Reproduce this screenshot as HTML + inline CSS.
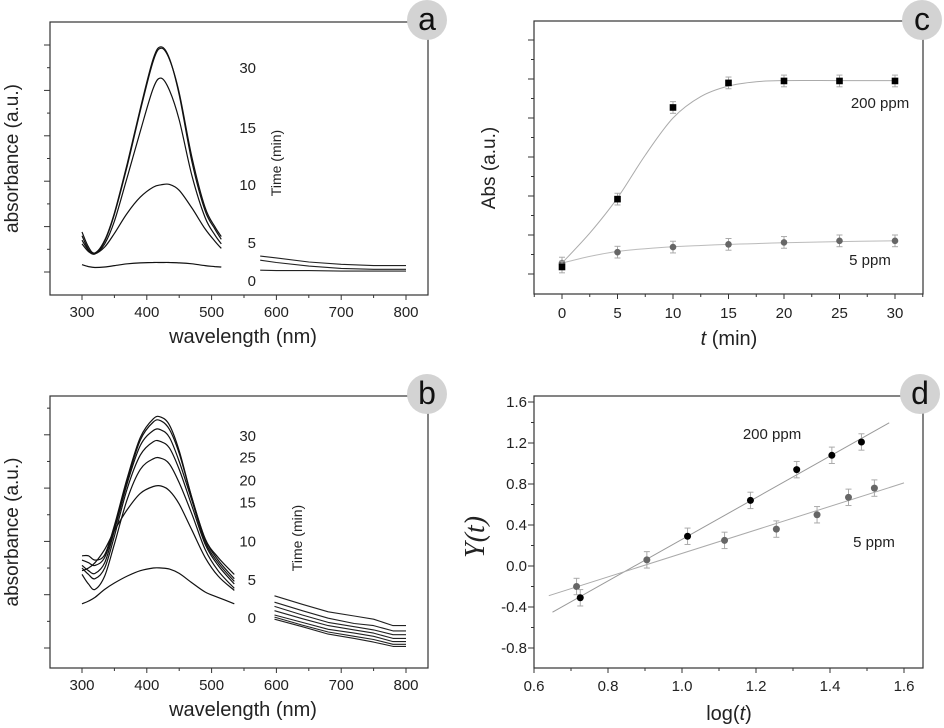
<!DOCTYPE html>
<html><head><meta charset="utf-8"><style>
html,body{margin:0;padding:0;background:#fff;}
svg{display:block;font-family:"Liberation Sans",sans-serif;}
</style></head><body>
<svg id="fig" width="944" height="728" viewBox="0 0 944 728"></svg>
<script>
// ---- Panel a data ----
const aWl = [300,310,320,335,350,370,390,410,422,435,450,470,490,505,515];
const aS30 = [0.88,0.55,0.42,0.7,1.3,2.4,3.6,4.7,4.96,4.7,3.9,2.4,1.35,0.95,0.72];
const aS20 = [0.80,0.50,0.40,0.68,1.27,2.35,3.55,4.65,4.93,4.68,3.95,2.5,1.42,1.0,0.78];
const aS15 = [0.70,0.48,0.40,0.62,1.12,2.1,3.1,4.05,4.27,4.0,3.35,2.1,1.2,0.82,0.62];
const aS10 = [0.62,0.45,0.40,0.55,0.85,1.3,1.65,1.87,1.92,1.93,1.8,1.4,0.95,0.68,0.52];
const aS0  = [0.16,0.12,0.10,0.11,0.14,0.18,0.2,0.21,0.21,0.21,0.2,0.18,0.14,0.12,0.11];
const aWlR = [575,600,650,700,750,800];
const aR1 = [0.35,0.31,0.22,0.17,0.14,0.14];
const aR2 = [0.26,0.21,0.13,0.08,0.06,0.06];
const aR3 = [0.04,0.03,0.03,0.02,0.02,0.02];
const aTimeLabels = ["30","15","10","5","0"];
const aTimeVals = [4.52,3.19,1.94,0.66,-0.18];
// ---- Panel b data ----
const bWl = [300,310,320,335,350,370,390,410,422,435,450,470,490,510,535];
const bS30 = [1.73,1.73,1.65,1.75,2.3,3.2,3.95,4.3,4.33,4.18,3.7,2.8,2.05,1.7,1.38];
const bS25 = [1.65,1.6,1.55,1.7,2.25,3.15,3.9,4.24,4.26,4.1,3.65,2.8,2.05,1.65,1.30];
const bS20 = [1.55,1.45,1.4,1.6,2.2,3.1,3.8,4.08,4.09,3.95,3.5,2.75,2.0,1.6,1.25];
const bS15 = [1.5,1.38,1.3,1.5,2.1,3.0,3.62,3.87,3.87,3.75,3.35,2.65,1.95,1.55,1.2];
const bS10 = [1.38,1.2,1.1,1.35,1.95,2.8,3.35,3.55,3.56,3.45,3.1,2.5,1.85,1.45,1.12];
const bS5  = [1.45,1.5,1.6,1.85,2.2,2.6,2.9,3.03,3.04,2.95,2.7,2.2,1.7,1.35,1.08];
const bS0  = [0.83,0.88,0.95,1.1,1.22,1.35,1.45,1.5,1.5,1.48,1.4,1.22,1.05,0.95,0.83];
const bWlR = [597,640,680,720,750,780,800];
const bR = [
 [0.98,0.82,0.68,0.6,0.54,0.42,0.42],
 [0.86,0.70,0.56,0.46,0.42,0.32,0.32],
 [0.78,0.62,0.48,0.40,0.34,0.25,0.25],
 [0.70,0.55,0.42,0.34,0.28,0.18,0.18],
 [0.62,0.48,0.35,0.28,0.22,0.12,0.12],
 [0.58,0.43,0.30,0.22,0.16,0.07,0.07],
 [0.54,0.40,0.26,0.18,0.11,0.03,0.03]
];
const bTimeLabels = ["30","25","20","15","10","5","0"];
const bTimeVals = [4.0,3.59,3.16,2.75,2.02,1.29,0.58];
// ---- Panel c data ----
const cT = [0,5,10,15,20,25,30];
const c200 = [0.18,1.92,4.27,4.90,4.95,4.95,4.95];
const c5 = [0.28,0.56,0.69,0.76,0.81,0.85,0.85];
const cErr = [0.15,0.15,0.15,0.15,0.15,0.15,0.15];
const cFitT = [0,2.5,5,7.5,10,12.5,15,17.5,20,25,30];
const cFit200 = [0.28,1.05,1.95,3.05,4.0,4.55,4.82,4.93,4.96,4.96,4.96];
const cFit5 = [0.28,0.45,0.58,0.65,0.70,0.73,0.76,0.78,0.80,0.83,0.85];
const cXTicks = ["0","5","10","15","20","25","30"];
// ---- Panel d data ----
const dX200 = [0.725,1.015,1.185,1.31,1.405,1.485];
const dY200 = [-0.31,0.29,0.64,0.94,1.08,1.21];
const dX5 = [0.715,0.905,1.115,1.255,1.365,1.45,1.52];
const dY5 = [-0.2,0.06,0.25,0.36,0.5,0.67,0.76];
const dFit200 = [2.03,-1.77];
const dFit5 = [1.146,-1.023];
const dXTicks = ["0.6","0.8","1.0","1.2","1.4","1.6"];
const dYTicks = ["-0.8","-0.4","0.0","0.4","0.8","1.2","1.6"];

const svg = document.getElementById('fig');
const NS = 'http://www.w3.org/2000/svg';
function mk(tag, attrs, parent, txt){
  const e = document.createElementNS(NS, tag);
  for (const k in attrs) e.setAttribute(k, attrs[k]);
  if (txt !== undefined) e.textContent = txt;
  (parent||svg).appendChild(e);
  return e;
}
function group(name){
  const g = mk('g', {});
  
  
  return g;
}
function lin(d0,d1,r0,r1){ return v => r0 + (v-d0)/(d1-d0)*(r1-r0); }
function path(xs, ys, sx, sy, g, stroke, w, name){
  let d = '';
  xs.forEach((x,i)=>{ d += (i?'L':'M') + sx(x).toFixed(1) + ' ' + sy(ys[i]).toFixed(1); });
  const p = mk('path', {d:d, fill:'none', stroke:stroke, 'stroke-width':w, 'stroke-linejoin':'round'}, g);
  
  
  return p;
}
function smooth(xs, ys, sx, sy, g, stroke, w, name){
  const P = xs.map((x,i)=>[sx(x), sy(ys[i])]);
  let d = 'M' + P[0][0].toFixed(1) + ' ' + P[0][1].toFixed(1);
  for (let i=0;i<P.length-1;i++){
    const p0 = P[i-1]||P[i], p1=P[i], p2=P[i+1], p3=P[i+2]||P[i+1];
    const c1 = [p1[0]+(p2[0]-p0[0])/6, p1[1]+(p2[1]-p0[1])/6];
    const c2 = [p2[0]-(p3[0]-p1[0])/6, p2[1]-(p3[1]-p1[1])/6];
    d += 'C'+c1[0].toFixed(1)+' '+c1[1].toFixed(1)+' '+c2[0].toFixed(1)+' '+c2[1].toFixed(1)+' '+p2[0].toFixed(1)+' '+p2[1].toFixed(1);
  }
  const p = mk('path', {d:d, fill:'none', stroke:stroke, 'stroke-width':w}, g);
  
  
  return p;
}
function frame(g, L, T, R, B){
  const r = mk('rect', {x:L, y:T, width:R-L, height:B-T, fill:'none', stroke:'#333', 'stroke-width':1.2}, g);
  
  
}
function badge(g, cx, cy, letter){
  const c = mk('circle', {cx:cx, cy:cy, r:20, fill:'#d3d3d3'}, g);
  
  
  const t = mk('text', {x:cx, y:cy+10, 'text-anchor':'middle', 'font-size':32, fill:'#111'}, g, letter);
  
  
}
function text(g, x, y, s, size, name, opts){
  const a = Object.assign({x:x, y:y, 'font-size':size, fill:'#222', 'text-anchor':'middle'}, opts||{});
  const t = mk('text', a, g, s);
  
  
  return t;
}
function vtext(g, x, y, s, size, name, opts){
  return text(g, x, y, s, size, name, Object.assign({transform:'rotate(-90 '+x+' '+y+')'}, opts||{}));
}
function tick(g, x1,y1,x2,y2){
  mk('line', {x1:x1,y1:y1,x2:x2,y2:y2,stroke:'#333','stroke-width':1}, g);
}

// ===== Panel a / b (spectra) =====
function spectraPanel(letter, T, B, y0, unit, yMaxTick, series, wl, wlR, rseries, labels, lvals, timeX, timeY){
  const g = group('panel-'+letter);
  const L=50, R=428;
  const sx = lin(300,800,82,406);
  const sy = v => y0 - v*unit;
  frame(g, L, T, R, B);
  badge(g, 427, T-2, letter);
  for (let w=300; w<=800; w+=50){
    const x = sx(w); tick(g, x, B, x, B+(w%100===0?5:3));
  }
  ['300','400','500','600','700','800'].forEach((s,i)=>{ text(g, sx(300+100*i), B+22, s, 15, 'x-tick-label'); });
  for (let v=-0.5; v<=yMaxTick+0.01; v+=0.5){
    const y = sy(v); if (y<T+2||y>B-2) continue;
    tick(g, L, y, L-(Math.abs(v%1)<0.01?6:3), y);
  }
  series.forEach((s,i)=>smooth(wl, s, sx, sy, g, '#111', 1.2, 'spectrum-'+i));
  rseries.forEach((s,i)=>path(wlR, s, sx, sy, g, '#222', 1.1, 'spectrum-tail-'+i));
  labels.forEach((s,i)=>text(g, 256, sy(lvals[i])+6, s, 15, 'time-label', {'text-anchor':'end'}));
  vtext(g, timeX, timeY, 'Time (min)', 14, 'time-axis-title');
  vtext(g, 18, (T+B)/2, 'absorbance (a.u.)', 19, 'y-axis-title');
  text(g, 243, B+48, 'wavelength (nm)', 20, 'x-axis-title');
}
spectraPanel('a', 22, 295, 272, 45.4, 5, [aS30,aS20,aS15,aS10,aS0], aWl, aWlR, [aR1,aR2,aR3], aTimeLabels, aTimeVals, 281, 163);
spectraPanel('b', 396, 668, 648, 53.3, 4.5, [bS30,bS25,bS20,bS15,bS10,bS5,bS0], bWl, bWlR, bR, bTimeLabels, bTimeVals, 302, 538);

// ===== Panel c =====
(function(){
  const g = group('panel-c');
  const L=534,T=21,R=923,B=294;
  const sx = lin(0,30,562,895);
  const sy = v => 274 - v*39;
  frame(g, L,T,R,B);
  badge(g, 922, 20, 'c');
  for (let t=-2.5; t<=32.5; t+=2.5){ const x=sx(t); if(x<L||x>R) continue; tick(g,x,B,x,B+(t%5===0?5:3)); }
  cT.forEach((t,i)=>text(g, sx(t), 318, cXTicks[i], 15, 'x-tick-label'));
  for (let v=0; v<=6.01; v+=0.5){ const y=sy(v); tick(g, L, y, L-(v%1===0?6:3), y); }
  smooth(cFitT, cFit200, sx, sy, g, '#aaa', 1, 'fit-200ppm');
  smooth(cFitT, cFit5, sx, sy, g, '#bbb', 1, 'fit-5ppm');
  const eb = (x,y,e)=>{ mk('line',{x1:sx(x),x2:sx(x),y1:sy(y-e),y2:sy(y+e),stroke:'#aaa'},g);
    mk('line',{x1:sx(x)-3,x2:sx(x)+3,y1:sy(y-e),y2:sy(y-e),stroke:'#aaa'},g);
    mk('line',{x1:sx(x)-3,x2:sx(x)+3,y1:sy(y+e),y2:sy(y+e),stroke:'#aaa'},g); };
  cT.forEach((t,i)=>{
    eb(t,c5[i],cErr[i]);
    const c = mk('circle',{cx:sx(t),cy:sy(c5[i]),r:3.3,fill:'#666'},g);
    
    
  });
  cT.forEach((t,i)=>{
    eb(t,c200[i],cErr[i]);
    const r = mk('rect',{x:sx(t)-3.3,y:sy(c200[i])-3.3,width:6.6,height:6.6,fill:'#000'},g);
    
    
  });
  text(g, 880, 108, '200 ppm', 15, 'label-200ppm');
  text(g, 870, 265, '5 ppm', 15, 'label-5ppm');
  vtext(g, 495, 168, 'Abs (a.u.)', 19, 'y-axis-title');
  const tt = text(g, 729, 345, '', 20, 'x-axis-title');
  mk('tspan',{'font-style':'italic'},tt,'t'); mk('tspan',{},tt,' (min)');
})();

// ===== Panel d =====
(function(){
  const g = group('panel-d');
  const L=534,T=396,R=923,B=668;
  const sx = lin(0.6,1.6,534,904);
  const sy = lin(0,0.4,566,525);
  frame(g, L,T,R,B);
  badge(g, 920, 394, 'd');
  for (let i=0;i<=10;i++){ const v=0.6+i*0.1; const x=sx(v); tick(g,x,B,x,B+(i%2===0?5:3)); }
  dXTicks.forEach((s,i)=>text(g, sx(0.6+i*0.2), 691, s, 15, 'x-tick-label'));
  for (let i=0;i<=12;i++){ const v=-0.8+i*0.2; const y=sy(v); tick(g,L,y,L-(i%2===0?6:3),y); }
  dYTicks.forEach((s,i)=>text(g, 527, sy(-0.8+i*0.4)+5, s, 15, 'y-tick-label', {'text-anchor':'end'}));
  const fl = (f,x0,x1,col,name)=>{ const l=mk('line',{x1:sx(x0),y1:sy(f[0]*x0+f[1]),x2:sx(x1),y2:sy(f[0]*x1+f[1]),stroke:col,'stroke-width':1},g);
      };
  fl(dFit200,0.65,1.56,'#999','fit-200ppm');
  fl(dFit5,0.64,1.6,'#aaa','fit-5ppm');
  const eb = (x,y)=>{ const e=0.08; mk('line',{x1:sx(x),x2:sx(x),y1:sy(y-e),y2:sy(y+e),stroke:'#aaa'},g);
    mk('line',{x1:sx(x)-3,x2:sx(x)+3,y1:sy(y-e),y2:sy(y-e),stroke:'#aaa'},g);
    mk('line',{x1:sx(x)-3,x2:sx(x)+3,y1:sy(y+e),y2:sy(y+e),stroke:'#aaa'},g); };
  dX5.forEach((x,i)=>{ eb(x,dY5[i]); const c=mk('circle',{cx:sx(x),cy:sy(dY5[i]),r:3.5,fill:'#666'},g);
      });
  dX200.forEach((x,i)=>{ eb(x,dY200[i]); const c=mk('circle',{cx:sx(x),cy:sy(dY200[i]),r:3.5,fill:'#000'},g);
      });
  text(g, 772, 439, '200 ppm', 15, 'label-200ppm');
  text(g, 874, 547, '5 ppm', 15, 'label-5ppm');
  vtext(g, 484, 537, 'Y(t)', 28, 'y-axis-title', {'font-family':'Liberation Serif,serif','font-style':'italic'});
  const tt = text(g, 729, 720, '', 20, 'x-axis-title');
  mk('tspan',{},tt,'log('); mk('tspan',{'font-style':'italic'},tt,'t'); mk('tspan',{},tt,')');
})();
</script>
</body></html>
